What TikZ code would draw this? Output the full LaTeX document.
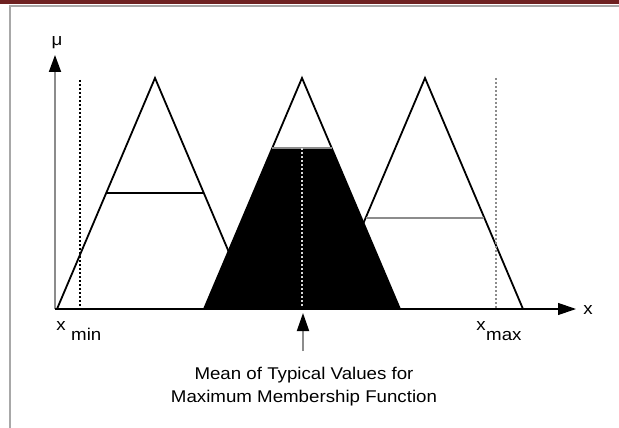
\documentclass[tikz,border=0pt]{standalone}
\usepackage{fontspec}
\setmainfont{Liberation Sans}
\newfontfamily\labelfont[FakeStretch=1.1]{Liberation Sans}
\usetikzlibrary{arrows.meta,calc}
\definecolor{band}{HTML}{6E2121}
\definecolor{rule}{HTML}{A8A8A8}
\definecolor{shaft}{HTML}{8C8C8C}

\begin{document}
\begin{tikzpicture}[x=1pt,y=-1pt,
  mf/.style={line width=1.8pt, line join=miter},
  lbl/.style={font=\labelfont\fontsize{17}{20}\selectfont, inner sep=0pt, anchor=base}]
\useasboundingbox (0,0) rectangle (619,428);

% page band and frame
\fill[band] (0,0) rectangle (619,4.5);
\draw[rule, line width=2pt] (10,428) -- (10,6.5) -- (619,6.5);

% axes and the three membership functions
\coordinate (O) at (55,309);
\coordinate (ytop) at (55,55);
\coordinate (xend) at (576,309);
\coordinate (A1) at (57,309);
\coordinate (P1) at (155,78);
\coordinate (B1) at (253,309);
\coordinate (A2) at (204,309);
\coordinate (P2) at (302,78);
\coordinate (B2) at (400,309);
\coordinate (A3) at (327,309);
\coordinate (P3) at (425,78);
\coordinate (B3) at (523,309);

% cut levels
\coordinate (L1) at ($(A1)!0.502!(P1)$);
\coordinate (R1) at ($(B1)!0.502!(P1)$);
\coordinate (L2) at ($(A2)!0.697!(P2)$);
\coordinate (R2) at ($(B2)!0.697!(P2)$);
\coordinate (L3) at ($(A3)!0.394!(P3)$);
\coordinate (R3) at ($(B3)!0.394!(P3)$);
\coordinate (M) at ($(L2)!0.5!(R2)$);
\coordinate (Mb) at (M |- O);

\draw[mf] (A1) -- (P1) -- (B1);
\draw[mf] (A3) -- (P3) -- (B3);
\draw[line width=1.4pt] (L1) -- (R1);
\draw[shaft, line width=1.8pt] (L3) -- (R3);

% x min / x max limits
\coordinate (lo) at (80,80);
\coordinate (hi) at (496,78);
\draw[line width=1.1pt, dash pattern=on 2pt off 2pt] (lo) -- (lo |- O);
\draw[shaft, line width=1.4pt, dash pattern=on 2pt off 2pt] (hi) -- (hi |- O);

% clipped function, filled
\fill[black] (A2) -- (L2) -- (R2) -- (B2) -- cycle;
\draw[mf] (A2) -- (P2) -- (B2);
\draw[shaft, line width=1.8pt] (L2) -- (R2);
\draw[white!85!black, line width=1.4pt, dash pattern=on 2pt off 2pt] (M) -- (Mb);

\draw[shaft, line width=1.8pt, -{Triangle[length=17pt,width=12pt,black]}] (O) -- (ytop);
\draw[line width=1.2pt, -{Triangle[length=18pt,width=12pt]}] (O) -- (xend);

% labels
\node[lbl] (mu) at (57,46) {μ};
\node[lbl] (xlab) at (588,314) {x};
\node[lbl] (xmin) at (61,330) {x};
\node[lbl, anchor=base west] (min) at (71,340) {min};
\node[lbl] (xmax) at (481,330) {x};
\node[lbl, anchor=base west] (max) at (486,340) {max};
\node[lbl] (mean1) at (304,379) {Mean of Typical Values for};
\node[lbl] (mean2) at (304,402) {Maximum Membership Function};

\coordinate (m0) at (303,351);
\coordinate (m1) at (303,313);
\draw[shaft, line width=1.8pt, -{Triangle[length=18pt,width=12pt,black]}] (m0) -- (m1);
\end{tikzpicture}
\end{document}
